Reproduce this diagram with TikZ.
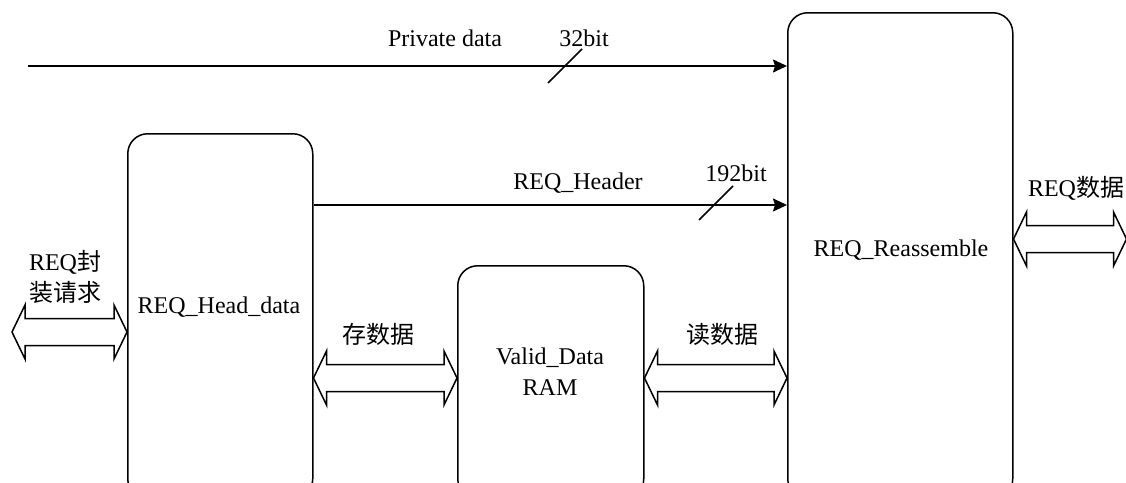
\documentclass[tikz,border=0pt]{standalone}
\usepackage{fontspec}
\setmainfont{Liberation Serif}
\newfontfamily\cjk{Noto Sans CJK SC}
\usetikzlibrary{calc,arrows.meta}
\tikzset{
  blk/.style={draw, line width=1.5pt, rounded corners=20pt, anchor=north west, inner sep=0pt},
  lbl/.style={inner sep=0pt, font=\fontsize{24}{31}\selectfont, align=center},
  sig/.style={line width=1.5pt, -{Stealth[length=14pt,width=13pt,inset=2pt]}},
  tick/.style={line width=1.5pt},
  fat/.style={draw, line width=1.5pt, line join=miter}
}
\newcommand\fatarrow[2]{%
  \path[fat] let \p1=(#1), \p2=(#2) in
    (\p1) -- (\x1+13pt,\y1+27pt) -- (\x1+13pt,\y1+13.5pt) -- (\x2-13pt,\y2+13.5pt)
    -- (\x2-13pt,\y2+27pt) -- (\p2) -- (\x2-13pt,\y2-27pt) -- (\x2-13pt,\y2-13.5pt)
    -- (\x1+13pt,\y1-13.5pt) -- (\x1+13pt,\y1-27pt) -- cycle;}
\begin{document}
\begin{tikzpicture}[x=1pt,y=-1pt]
\clip (0,0) rectangle (1126,482);
% blocks
\node[blk, minimum width=185pt, minimum height=365pt] (head) at (127,133) {};
\node[blk, minimum width=186pt, minimum height=233pt] (ram) at (457,265) {};
\node[blk, minimum width=225pt, minimum height=486pt] (reas) at (787,12) {};
% block texts
\node[lbl] (headt) at (219,307) {REQ\_Head\_data};
\node[lbl] (ramt) at (550,372) {Valid\_Data\\RAM};
\node[lbl] (reast) at (901,250) {REQ\_Reassemble};
% signal arrows
\coordinate (pd) at (28,66);
\draw[sig] (pd) -- (pd -| reas.west);
\coordinate (hd) at ($(head.north east)+(0,72)$);
\draw[sig] (hd) -- (hd -| reas.west);
\draw[tick] (548,83) -- (582,49);
\draw[tick] (699,220) -- (733,186);
\node[lbl] (pdt) at (445,38) {Private data};
\node[lbl] (b32) at (584,38) {32bit};
\node[lbl] (hdt) at (578,183) {REQ\_Header};
\node[lbl] (b192) at (736,173) {192bit};
% fat double arrows
\coordinate (l1) at (12,332);
\coordinate (l2) at (l1 -| head.west);
\fatarrow{l1}{l2}
\coordinate (s1) at ($(head.north east)+(0,245)$);
\coordinate (s2) at (s1 -| ram.west);
\fatarrow{s1}{s2}
\coordinate (r1) at (s1 -| ram.east);
\coordinate (r2) at (s1 -| reas.west);
\fatarrow{r1}{r2}
\coordinate (o1) at ($(reas.north east)+(0,227)$);
\coordinate (o2) at ($(o1)+(113,0)$);
\fatarrow{o1}{o2}
% arrow labels
\node[lbl] (inq) at (65,277) {REQ{\cjk 封}\\{\cjk 装请求}};
\node[lbl] (st) at (378,334) {\cjk 存数据};
\node[lbl] (rd) at (722,334) {\cjk 读数据};
\node[lbl] (out) at (1076,188) {REQ{\cjk 数据}};
\end{tikzpicture}
\end{document}
